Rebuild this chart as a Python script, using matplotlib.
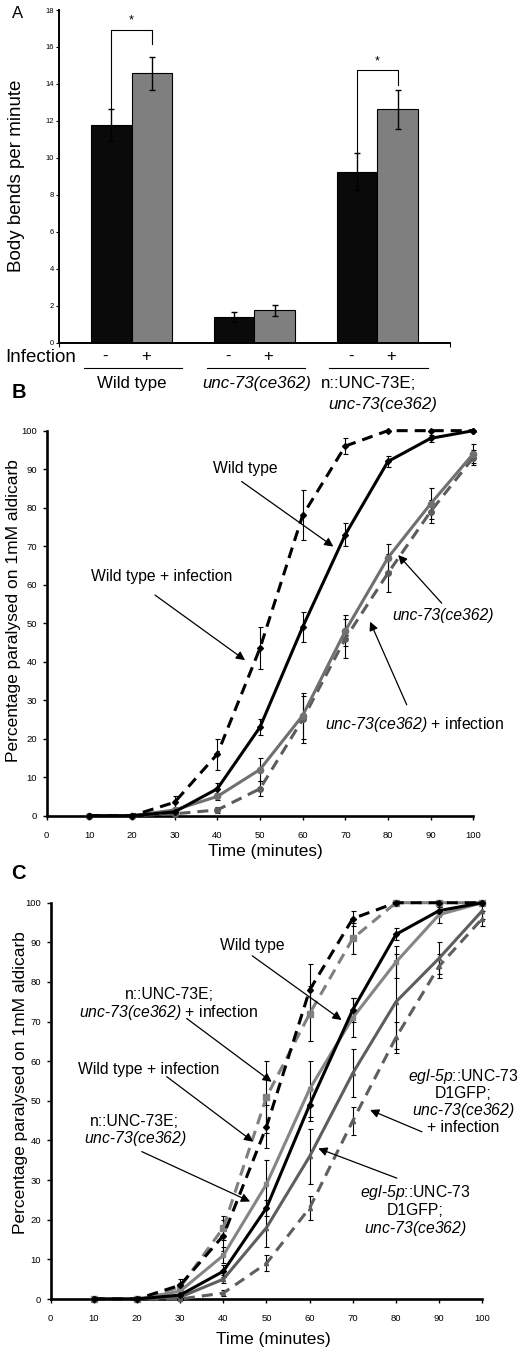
import matplotlib
matplotlib.use("Agg")
import matplotlib.pyplot as plt
import numpy as np

plt.rcParams['font.family'] = ['Liberation Sans', 'DejaVu Sans']
plt.rcParams['mathtext.fontset'] = 'custom'
plt.rcParams['mathtext.rm'] = 'Liberation Sans'
# sf slot holds the italic face so digits and brackets stay italic too
plt.rcParams['mathtext.sf'] = 'Liberation Sans:italic'
plt.rcParams['mathtext.it'] = 'Liberation Sans:italic'

NARROW = ['Liberation Sans Narrow', 'Liberation Sans']
UNC = r'$\mathsf{unc}$-$\mathsf{73(ce362)}$'
EGL = r'$\mathsf{egl}$-$\mathsf{5p}$'

# ---- panel A data ----
groups = [1, 2, 3]
bends_ctrl = [11.76, 1.41, 9.25]
bends_ctrl_err = [0.87, 0.27, 1.0]
bends_inf = [14.58, 1.75, 12.63]
bends_inf_err = [0.89, 0.29, 1.05]

# ---- panel B / C data ----
time = [10, 20, 30, 40, 50, 60, 70, 80, 90, 100]
wt = [0, 0, 1, 7, 23, 49, 73, 92, 98, 100]
wt_err = [0, 0, 0.5, 1.5, 2, 4, 3, 1.5, 1, 0]
wt_inf = [0, 0, 3.5, 16, 43.5, 78, 96, 100, 100, 100]
wt_inf_err = [0, 0, 1.5, 4, 5.5, 6.5, 2, 0, 0, 0]
unc = [0, 0, 1.5, 5, 12, 26, 48, 67, 81, 94]
unc_err = [0, 0, 0.5, 1, 3, 6, 4, 3.5, 4, 2.5]
unc_inf = [0, 0, 0.5, 1.5, 7, 25, 46, 63, 79, 93]
unc_inf_err = [0, 0, 0.3, 0.8, 2, 6, 5, 5, 3, 2]

n_unc = [0, 0, 2, 11, 29, 53, 71, 85, 97, 100]
n_unc_err = [0, 0, 0.5, 2, 6, 7, 5, 4, 2, 0]
n_unc_inf = [0, 0, 3, 18, 51, 72, 91, 100, 100, 100]
n_unc_inf_err = [0, 0, 1, 3, 9, 7, 4, 0, 0, 0]
egl = [0, 0, 0.5, 5, 18, 36, 57, 75, 86, 98]
egl_err = [0, 0, 0.3, 1, 5, 7, 6, 12, 4, 2]
egl_inf = [0, 0, 0, 1.5, 9, 23, 45, 66, 84, 96]
egl_inf_err = [0, 0, 0.2, 0.8, 2, 3, 3.5, 4, 3, 2]

fig = plt.figure(figsize=(5.21, 13.53), dpi=100)

# ================= A =================
ax = fig.add_axes([0.1132, 0.7467, 0.7505, 0.2459])
w = 0.33
x = np.array(groups, dtype=float)
ax.bar(x - w / 2, bends_ctrl, w, color='#0a0a0a', edgecolor='black', linewidth=0.8)
ax.bar(x + w / 2, bends_inf, w, color='#7f7f7f', edgecolor='black', linewidth=0.8)
ax.errorbar(x - w / 2, bends_ctrl, yerr=bends_ctrl_err, fmt='none', ecolor='black',
            elinewidth=1, capsize=2.5, capthick=1)
ax.errorbar(x + w / 2, bends_inf, yerr=bends_inf_err, fmt='none', ecolor='black',
            elinewidth=1, capsize=2.5, capthick=1)

# significance brackets
for i, top in [(0, 16.94), (2, 14.74)]:
    xl = x[i] - w / 2
    xr = x[i] + w / 2
    yl = bends_ctrl[i] + bends_ctrl_err[i]
    yr = top - 0.78
    ax.plot([xl, xl, xr, xr], [yl, top, top, yr], color='black', lw=0.8)
    ax.text(x[i], top + 0.15, '*', ha='center', va='bottom', fontsize=9)

ax.set_xlim(0.41, 3.59)
ax.set_ylim(0, 18)
ax.set_yticks(range(0, 19, 2), [str(v) for v in range(0, 19, 2)],
              fontfamily=NARROW, fontsize=5.5)
ax.set_xticks([0.41, 3.59], ['', ''])
ax.tick_params(axis='y', direction='out', length=2, width=0.8, pad=1.5)
ax.tick_params(axis='x', direction='out', length=3, width=0.8)
for s in ['top', 'right']:
    ax.spines[s].set_visible(False)
for s in ['left', 'bottom']:
    ax.spines[s].set_linewidth(1.4)

tr = ax.get_xaxis_transform()
ax.text(0.26, -0.045, 'Infection', transform=tr, ha='center', va='center', fontsize=13.5)
for xi in x:
    ax.text(xi - w / 2 - 0.05, -0.042, '-', transform=tr, ha='center', va='center', fontsize=12)
    ax.text(xi + w / 2 - 0.05, -0.042, '+', transform=tr, ha='center', va='center', fontsize=12)
    ax.plot([xi + 0.01 - 0.4, xi + 0.01 + 0.4], [-0.077, -0.077], transform=tr,
            color='black', lw=0.8, clip_on=False)
ax.text(1.0, -0.122, 'Wild type', transform=tr, ha='center', va='center', fontsize=12.2)
ax.text(2.02, -0.122, 'unc-73(ce362)', transform=tr, ha='center', va='center',
        fontsize=12.2, style='italic')
ax.text(2.93, -0.122, 'n::UNC-73E;', transform=tr, ha='center', va='center', fontsize=12.2)
ax.text(3.045, -0.187, 'unc-73(ce362)', transform=tr, ha='center', va='center',
        fontsize=12.2, style='italic')

fig.text(0.0326, 0.8699, 'Body bends per minute', rotation=90, ha='center', va='center',
         fontsize=13.5)
fig.text(0.0345, 0.9902, 'A', ha='center', va='center', fontsize=12)
fig.text(0.0365, 0.7098, 'B', ha='center', va='center', fontsize=14.5, fontweight='bold')
fig.text(0.0350, 0.3545, 'C', ha='center', va='center', fontsize=14.5, fontweight='bold')


def style_line_axes(a):
    a.set_xlim(0, 100)
    a.set_ylim(0, 100)
    a.set_xticks(range(0, 101, 10), [str(v) for v in range(0, 101, 10)],
                 fontfamily=NARROW, fontsize=6.8)
    a.set_yticks(range(0, 101, 10), [str(v) for v in range(0, 101, 10)],
                 fontfamily=NARROW, fontsize=6.8)
    a.tick_params(axis='x', direction='out', length=3, width=1, pad=8)
    a.tick_params(axis='y', direction='out', length=3, width=1, pad=4)
    for s in ['top', 'right']:
        a.spines[s].set_visible(False)
    for s in ['left', 'bottom']:
        a.spines[s].set_linewidth(1.9)


def series(a, y, err, color, ls, marker, ms):
    a.errorbar(time, y, yerr=err, fmt='none', ecolor='black', elinewidth=0.8,
               capsize=1.8, capthick=0.8, zorder=2, clip_on=False)
    a.plot(time, y, color=color, linestyle=ls, lw=2.2, marker=marker, ms=ms,
           zorder=3, clip_on=False)


DASH = (0, (3.6, 2.3))
ARROW = dict(arrowstyle='-|>', color='black', lw=0.9, mutation_scale=13,
             shrinkA=0, shrinkB=0)

# ================= B =================
bx = fig.add_axes([0.0896, 0.3971, 0.8188, 0.2846])
series(bx, unc_inf, unc_inf_err, '#5c5c5c', DASH, 'o', 4)
series(bx, unc, unc_err, '#707070', '-', 'o', 4.5)
series(bx, wt_inf, wt_inf_err, 'black', DASH, 'D', 3)
series(bx, wt, wt_err, 'black', '-', 'D', 3)
style_line_axes(bx)

fs = 11.3
bx.text(46.5, 90.2, 'Wild type', fontsize=fs, ha='center', va='center')
bx.annotate('', xy=(67.2, 69.9), xytext=(45.7, 86.8), arrowprops=ARROW)
bx.text(27.0, 62.1, 'Wild type + infection', fontsize=fs, ha='center', va='center')
bx.annotate('', xy=(46.5, 40.4), xytext=(25.4, 57.3), arrowprops=ARROW)
bx.text(92.9, 52.1, 'unc-73(ce362)', fontsize=fs, ha='center', va='center', style='italic')
bx.annotate('', xy=(82.4, 67.7), xytext=(92.6, 55.2), arrowprops=ARROW)
bx.text(86.3, 23.6, UNC + ' + infection', fontsize=fs, ha='center', va='center')
bx.annotate('', xy=(75.8, 50.4), xytext=(84.4, 28.8), arrowprops=ARROW)

fig.text(0.025, 0.5488, 'Percentage paralysed on 1mM aldicarb', rotation=90,
         ha='center', va='center', fontsize=12.5)
fig.text(0.5086, 0.3705, 'Time (minutes)', ha='center', va='center', fontsize=12.4)

# ================= C =================
cx = fig.add_axes([0.0973, 0.0399, 0.8284, 0.2929])
series(cx, egl_inf, egl_inf_err, '#5e5e5e', DASH, '^', 3)
series(cx, egl, egl_err, '#5e5e5e', '-', '^', 3)
series(cx, n_unc_inf, n_unc_inf_err, '#808080', DASH, 's', 4)
series(cx, n_unc, n_unc_err, '#858585', '-', 's', 3)
series(cx, wt_inf, wt_inf_err, 'black', DASH, 'D', 3)
series(cx, wt, wt_err, 'black', '-', 'D', 3)
style_line_axes(cx)

cx.text(46.6, 89.1, 'Wild type', fontsize=fs, ha='center', va='center')
cx.annotate('', xy=(67.4, 70.4), xytext=(46.7, 86.6), arrowprops=ARROW)
cx.text(27.4, 74.4, 'n::UNC-73E;\n' + UNC + ' + infection',
        fontsize=fs, ha='center', va='center', linespacing=1.05)
cx.annotate('', xy=(51.2, 54.8), xytext=(31.5, 70.8), arrowprops=ARROW)
cx.text(22.6, 58.0, 'Wild type + infection', fontsize=fs, ha='center', va='center')
cx.annotate('', xy=(46.9, 39.7), xytext=(26.9, 56.1), arrowprops=ARROW)
cx.text(19.5, 42.4, 'n::UNC-73E;\n' + UNC,
        fontsize=fs, ha='center', va='center', linespacing=1.05)
cx.annotate('', xy=(46.2, 24.6), xytext=(21.1, 37.2), arrowprops=ARROW)
cx.text(95.5, 50.0, EGL + '::UNC-73\nD1GFP;\n' + UNC + '\n+ infection',
        fontsize=fs, ha='center', va='center', linespacing=1.0)
cx.annotate('', xy=(74.0, 47.7), xytext=(86.0, 42.2), arrowprops=ARROW)
cx.text(84.4, 22.3, EGL + '::UNC-73\nD1GFP;\n' + UNC,
        fontsize=fs, ha='center', va='center', linespacing=1.05)
cx.annotate('', xy=(62.0, 38.0), xytext=(80.2, 30.5), arrowprops=ARROW)

fig.text(0.0384, 0.2, 'Percentage paralysed on 1mM aldicarb', rotation=90,
         ha='center', va='center', fontsize=12.5)
fig.text(0.524, 0.0101, 'Time (minutes)', ha='center', va='center', fontsize=12.4)

fig.savefig('out.png', dpi=100)
